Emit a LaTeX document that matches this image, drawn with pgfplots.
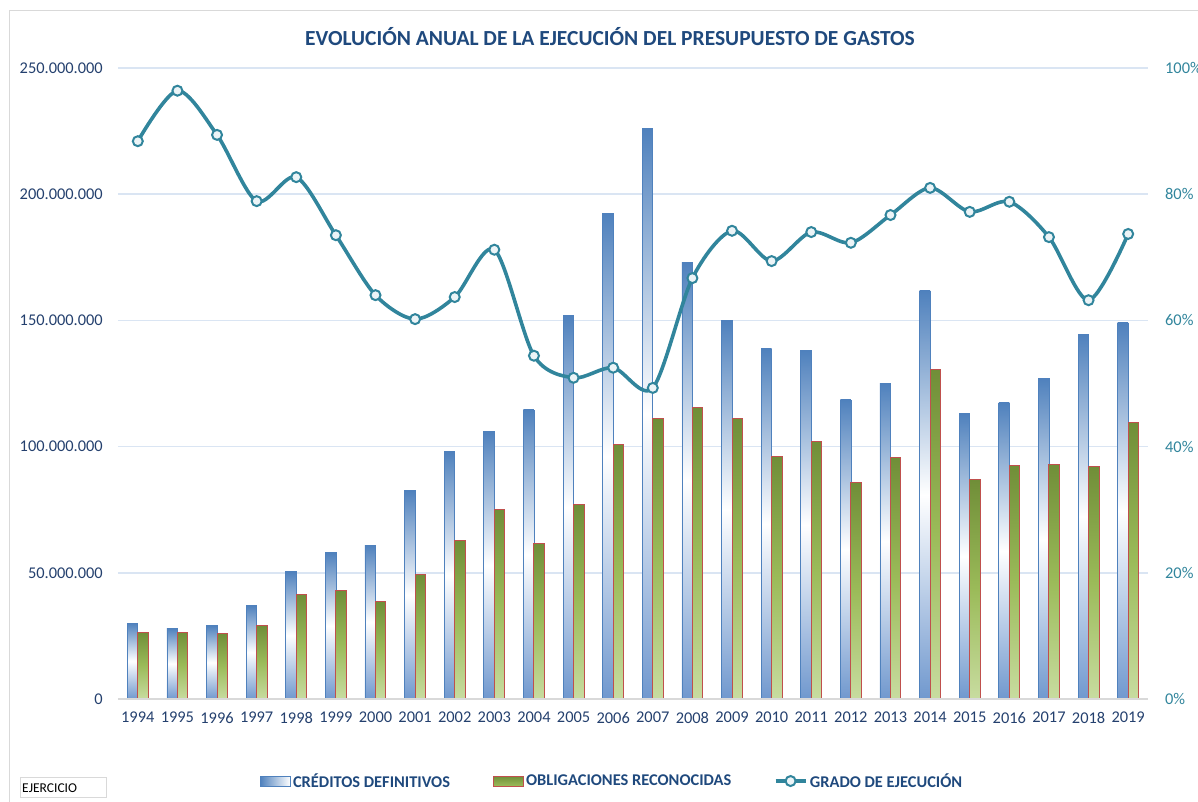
\documentclass[border=0pt]{standalone}
\usepackage{pgfplots}
\pgfplotsset{compat=1.18}
\usepackage{pgfplotstable}
\usepackage{fontspec}
\setmainfont{Carlito}

\definecolor{tblue}{RGB}{31,73,125}
\definecolor{tickblue}{RGB}{36,64,110}
\definecolor{tealc}{RGB}{49,133,156}
\definecolor{gridblue}{RGB}{218,229,243}
\definecolor{framegrey}{RGB}{217,217,217}
\definecolor{btop}{RGB}{79,129,189}
\definecolor{bbot}{RGB}{112,152,206}
\definecolor{bedge}{RGB}{79,129,189}
\definecolor{gtop}{RGB}{112,142,56}
\definecolor{gmid}{RGB}{155,187,89}
\definecolor{gbot}{RGB}{200,220,160}
\definecolor{redge}{RGB}{192,80,77}
\definecolor{mfill}{RGB}{236,244,247}

\pgfplotstableread{
x year cred oblig grado
0 1994 30100000 26500000 88.4
1 1995 28000000 26500000 96.4
2 1996 29000000 25800000 89.4
3 1997 37000000 29000000 78.9
4 1998 50500000 41600000 82.7
5 1999 58000000 42800000 73.5
6 2000 61000000 38800000 64.0
7 2001 82500000 49500000 60.2
8 2002 98000000 62600000 63.7
9 2003 106000000 75000000 71.2
10 2004 114500000 61800000 54.4
11 2005 152000000 77000000 50.9
12 2006 192500000 101000000 52.5
13 2007 226000000 111000000 49.3
14 2008 173000000 115300000 66.7
15 2009 150000000 111300000 74.2
16 2010 138700000 96000000 69.4
17 2011 138000000 102200000 74.0
18 2012 118500000 85600000 72.3
19 2013 125000000 95500000 76.7
20 2014 161700000 130700000 81.0
21 2015 113000000 86800000 77.2
22 2016 117300000 92700000 78.8
23 2017 127000000 93000000 73.2
24 2018 144600000 92000000 63.2
25 2019 149000000 109700000 73.7
}\datatable

\begin{document}
\begin{tikzpicture}
\useasboundingbox (-118bp,-103bp) rectangle (1080bp,699bp);
% chart frame
\draw[framegrey, line width=1bp] (-108bp,-110bp) -- (-108bp,688bp) -- (1090bp,688bp);
\begin{axis}[
  scale only axis, width=1030bp, height=631bp,
  xmin=-0.5, xmax=25.5, ymin=0, ymax=250000000,
  scaled y ticks=false,
  axis line style={draw=none},
  major tick length=0pt,
  xtick={0,...,25},
  xticklabels={1994,1995,1996,1997,1998,1999,2000,2001,2002,2003,2004,2005,2006,2007,2008,2009,2010,2011,2012,2013,2014,2015,2016,2017,2018,2019},
  ytick={0,50000000,100000000,150000000,200000000,250000000},
  yticklabels={0,50.000.000,100.000.000,150.000.000,200.000.000,250.000.000},
  ymajorgrids, grid style={draw=gridblue, line width=1.6bp},
  tick label style={font=\fontsize{16.4bp}{19bp}\selectfont, text=tickblue, inner sep=0pt},
  yticklabel style={xshift=-15bp},
  xticklabel style={yshift=-13bp},
  clip=false,
  bluebar/.style={ybar, bar width=10.5bp, bar shift=-5.25bp, top color=btop, bottom color=bbot, middle color=white, draw=bedge, line width=0.7bp},
  greenbar/.style={ybar, bar width=10.5bp, bar shift=5.25bp, top color=gtop, bottom color=gbot, middle color=gmid, draw=redge, line width=1bp},
]
\pgfplotsinvokeforeach{0,...,25}{
  \addplot[bluebar] table[x=x,y=cred, restrict expr to domain={\coordindex}{#1:#1}]{\datatable};
  \addplot[greenbar] table[x=x,y=oblig, restrict expr to domain={\coordindex}{#1:#1}]{\datatable};
}
\draw[framegrey, line width=1.2bp] (axis cs:-0.5,0) -- (axis cs:25.5,0);
\end{axis}
\begin{axis}[
  scale only axis, width=1030bp, height=631bp,
  xmin=-0.5, xmax=25.5, ymin=0, ymax=100,
  axis line style={draw=none},
  major tick length=0pt,
  xtick=\empty,
  ytick={0,20,40,60,80,100},
  yticklabels={0\%,20\%,40\%,60\%,80\%,100\%},
  yticklabel pos=right,
  tick label style={font=\fontsize{16.4bp}{19bp}\selectfont, text=tealc, inner sep=0pt},
  yticklabel style={xshift=17bp},
  clip=false,
  legend columns=3,
  legend style={at={(0.480,-0.130)}, anchor=center, draw=none, fill=none,
    font=\fontsize{16.4bp}{19bp}\selectfont\bfseries, text=tblue,
    inner sep=0pt,
    nodes={inner sep=2.5bp},
    /tikz/every even column/.append style={column sep=40bp}},
  legend cell align=left,
]
\addlegendimage{legend image code/.code={\draw[left color=btop, right color=white, draw=bedge, line width=0.5bp] (0bp,-5bp) rectangle (30bp,5bp);}}
\addlegendentry{CRÉDITOS DEFINITIVOS}
\addlegendimage{legend image code/.code={\draw[top color=gtop, bottom color=gmid, draw=redge, line width=1bp] (0bp,-5bp) rectangle (30bp,5bp);}}
\addlegendentry{OBLIGACIONES RECONOCIDAS}
\addplot[tealc, line width=3.6bp, smooth, tension=0.5, mark=*, mark size=5bp,
  mark options={fill=mfill, draw=tealc, line width=2bp},
  legend image code/.code={\draw[tealc, line width=3.6bp] (0bp,0bp) -- (30bp,0bp); \draw[fill=mfill, draw=tealc, line width=2bp] (15bp,0bp) circle (5bp);}]
  table[x=x,y=grado]{\datatable};
\addlegendentry{GRADO DE EJECUCIÓN}
\end{axis}
% title
\node[font=\fontsize{21.5bp}{25bp}\selectfont\bfseries, text=tblue] at (492bp,662bp) {EVOLUCIÓN ANUAL DE LA EJECUCIÓN DEL PRESUPUESTO DE GASTOS};
% EJERCICIO box
\draw[framegrey, line width=1bp] (-97bp,-78bp) rectangle (-11bp,-98bp);
\node[anchor=west, inner sep=0pt, font=\fontsize{13.5bp}{15bp}\selectfont] at (-96bp,-89bp) {EJERCICIO};
\end{tikzpicture}
\end{document}
